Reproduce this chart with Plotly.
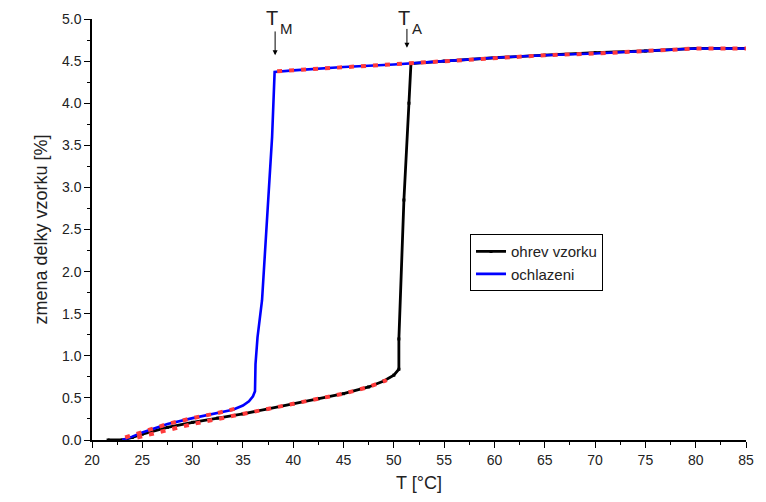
import plotly.graph_objects as go

# heating (ohrev vzorku)
heat_T = [21.6, 23.0, 24.0, 25.0, 27.5, 30.0, 32.5, 35.0, 37.5, 40.0, 42.5, 45.0, 47.5, 49.0, 50.0, 50.5,
          50.5, 51.0, 51.5, 51.7, 55.0, 60.0, 65.0, 70.0, 75.0, 80.0, 85.0]
heat_y = [0.0, 0.0, 0.03, 0.07, 0.15, 0.21, 0.26, 0.31, 0.37, 0.43, 0.49, 0.55, 0.63, 0.70, 0.77, 0.84,
          1.2, 2.85, 4.0, 4.47, 4.50, 4.54, 4.57, 4.60, 4.62, 4.65, 4.65]

# cooling (ochlazeni)
cool_T = [23.0, 24.0, 25.0, 27.5, 30.0, 32.5, 34.0, 35.0, 35.6, 36.0, 36.2, 36.25, 36.35, 36.45, 36.9,
          37.4, 37.9, 38.15, 40.0, 45.0, 50.0, 55.0, 60.0, 65.0, 70.0, 75.0, 80.0, 85.0]
cool_y = [0.0, 0.04, 0.09, 0.19, 0.26, 0.32, 0.36, 0.41, 0.46, 0.52, 0.58, 0.9, 1.15, 1.22, 1.66,
          2.6, 3.6, 4.37, 4.39, 4.43, 4.46, 4.50, 4.54, 4.57, 4.59, 4.62, 4.65, 4.65]

# red dotted model curves
fit_heat_T = [24.5, 27.5, 30.0, 32.5, 35.0, 37.5, 40.0, 42.5, 45.0, 47.5, 49.3]
fit_heat_y = [0.03, 0.12, 0.19, 0.25, 0.31, 0.37, 0.43, 0.49, 0.55, 0.63, 0.71]
fit_cool_T = [23.3, 25.0, 27.5, 30.0, 32.5, 34.5]
fit_cool_y = [0.03, 0.09, 0.19, 0.26, 0.32, 0.38]
fit_top_T = [38.4, 45.0, 50.0, 55.0, 60.0, 65.0, 70.0, 75.0, 80.0, 85.0]
fit_top_y = [4.38, 4.43, 4.46, 4.50, 4.54, 4.57, 4.59, 4.62, 4.65, 4.65]

x_ticks = [20, 25, 30, 35, 40, 45, 50, 55, 60, 65, 70, 75, 80, 85]
y_ticks = [0.0, 0.5, 1.0, 1.5, 2.0, 2.5, 3.0, 3.5, 4.0, 4.5, 5.0]

# transition markers: (main letter, subscript, x position, arrow head y, arrow tail y)
marks = [("T", "M", 38.2, 4.57, 4.87), ("T", "A", 51.3, 4.66, 4.90)]

FONT = "Liberation Sans, Arial"

fig = go.Figure()
fig.add_trace(go.Scatter(x=heat_T, y=heat_y, mode="lines+markers", name="ohrev vzorku",
                         line=dict(color="black", width=2.8),
                         marker=dict(color="black", size=3, symbol="square")))
fig.add_trace(go.Scatter(x=cool_T, y=cool_y, mode="lines", name="ochlazeni",
                         line=dict(color="#0000ff", width=2.6)))
for fx, fy in [(fit_heat_T, fit_heat_y), (fit_cool_T, fit_cool_y), (fit_top_T, fit_top_y)]:
    fig.add_trace(go.Scatter(x=fx, y=fy, mode="lines", showlegend=False, hoverinfo="skip",
                             line=dict(color="#ff3b3b", width=4, dash="5px,7px")))

for main, sub, xv, yh, yt in marks:
    fig.add_annotation(x=xv, y=yh, xref="x", yref="y", ax=xv, ay=yt, axref="x", ayref="y",
                       text="", showarrow=True, arrowhead=2, arrowsize=1, arrowwidth=1,
                       arrowcolor="black")
    fig.add_annotation(x=xv, y=1.0, xref="x", yref="paper", yanchor="top", xanchor="center",
                       xshift=-3, yshift=14, text=main, showarrow=False,
                       font=dict(family=FONT, size=20, color="#222"))
    fig.add_annotation(x=xv, y=1.0, xref="x", yref="paper", yanchor="top", xanchor="left",
                       xshift=3, yshift=1, text=sub, showarrow=False,
                       font=dict(family=FONT, size=15, color="#222"))

fig.update_layout(
    width=766, height=502,
    margin=dict(l=92, r=20, t=19, b=62),
    paper_bgcolor="white", plot_bgcolor="white",
    font=dict(family=FONT, size=13, color="#222"),
    showlegend=True,
    legend=dict(x=0.578, y=0.489, xanchor="left", yanchor="top",
                bordercolor="black", borderwidth=1, bgcolor="white",
                font=dict(size=15, color="#222"), tracegroupgap=0),
    xaxis=dict(range=[20, 85], tickvals=x_ticks, showgrid=False, zeroline=False,
               showline=True, linecolor="black", linewidth=1.5, ticks="outside",
               ticklen=6, tickwidth=1.2, tickcolor="black",
               minor=dict(ticks="outside", ticklen=3, tickwidth=1, tickcolor="black", dtick=2.5),
               title=dict(text="T [°C]", font=dict(size=18), standoff=10),
               tickfont=dict(size=14)),
    yaxis=dict(range=[0, 5.0], tickvals=y_ticks, tickformat=".1f", showgrid=False, zeroline=False,
               showline=True, linecolor="black", linewidth=1.5, ticks="outside",
               ticklen=6, tickwidth=1.2, tickcolor="black",
               minor=dict(ticks="outside", ticklen=3, tickwidth=1, tickcolor="black", dtick=0.25),
               title=dict(text="zmena delky vzorku [%]", font=dict(size=18), standoff=10),
               tickfont=dict(size=14)),
)

fig.write_html("out.html")
